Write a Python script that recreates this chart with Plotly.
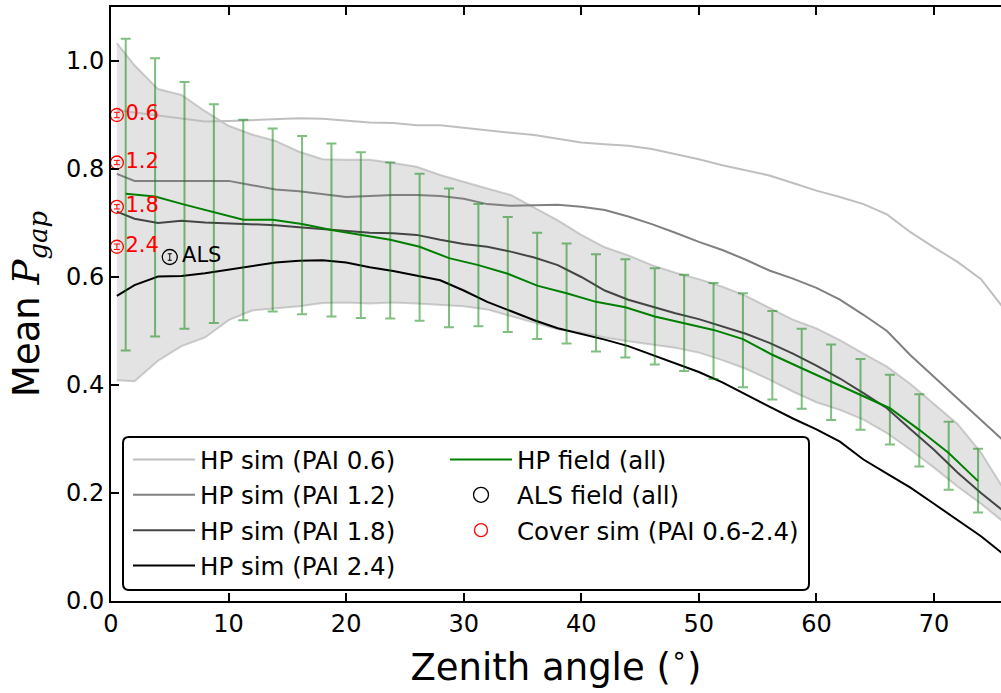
import plotly.graph_objects as go

# ---------------- data ----------------
sim_x = [0.5, 2, 4, 6, 8, 10, 12, 14, 16, 18, 20, 22, 24, 26, 28, 30, 32, 34, 36, 38,
         40, 42, 44, 46, 48, 50, 52, 54, 56, 58, 60, 62, 64, 66, 68, 70, 72, 74, 76]

pai06 = [0.909, 0.905, 0.899, 0.893, 0.888, 0.889, 0.891, 0.893, 0.894, 0.893,
         0.889, 0.886, 0.885, 0.881, 0.881, 0.876, 0.871, 0.867, 0.863, 0.856,
         0.849, 0.846, 0.843, 0.837, 0.828, 0.818, 0.807, 0.797, 0.788, 0.774,
         0.760, 0.748, 0.735, 0.716, 0.683, 0.655, 0.628, 0.596, 0.540]
pai12 = [0.791, 0.778, 0.778, 0.778, 0.779, 0.778, 0.770, 0.762, 0.759, 0.754,
         0.748, 0.750, 0.752, 0.752, 0.750, 0.745, 0.735, 0.732, 0.733, 0.734,
         0.730, 0.724, 0.712, 0.698, 0.682, 0.665, 0.650, 0.632, 0.612, 0.597,
         0.580, 0.558, 0.530, 0.500, 0.455, 0.415, 0.375, 0.335, 0.295]
pai18 = [0.721, 0.708, 0.700, 0.704, 0.701, 0.699, 0.697, 0.696, 0.692, 0.689,
         0.686, 0.682, 0.681, 0.678, 0.669, 0.661, 0.656, 0.647, 0.636, 0.622,
         0.600, 0.575, 0.558, 0.545, 0.533, 0.522, 0.508, 0.495, 0.478, 0.458,
         0.436, 0.412, 0.385, 0.357, 0.318, 0.280, 0.238, 0.200, 0.165]
pai24 = [0.565, 0.585, 0.601, 0.602, 0.607, 0.614, 0.620, 0.627, 0.630, 0.631,
         0.627, 0.618, 0.611, 0.602, 0.594, 0.575, 0.554, 0.537, 0.520, 0.505,
         0.495, 0.484, 0.472, 0.456, 0.440, 0.424, 0.405, 0.382, 0.360, 0.338,
         0.318, 0.295, 0.262, 0.236, 0.210, 0.180, 0.150, 0.120, 0.085]

band_upper = [1.033, 0.992, 0.948, 0.937, 0.907, 0.880, 0.864, 0.852, 0.832, 0.818,
              0.817, 0.817, 0.811, 0.804, 0.789, 0.776, 0.764, 0.752, 0.728, 0.705,
              0.678, 0.655, 0.640, 0.622, 0.608, 0.596, 0.582, 0.565, 0.543, 0.521,
              0.505, 0.483, 0.458, 0.434, 0.402, 0.365, 0.328, 0.275, 0.205]
band_lower = [0.409, 0.407, 0.445, 0.472, 0.488, 0.520, 0.538, 0.542, 0.546, 0.552,
              0.553, 0.551, 0.553, 0.551, 0.549, 0.546, 0.540, 0.528, 0.515, 0.503,
              0.497, 0.488, 0.481, 0.475, 0.469, 0.460, 0.446, 0.430, 0.410, 0.388,
              0.368, 0.354, 0.336, 0.311, 0.280, 0.247, 0.212, 0.180, 0.145]

field_x = [1.25, 3.75, 6.25, 8.75, 11.25, 13.75, 16.25, 18.75, 21.25, 23.75,
           26.25, 28.75, 31.25, 33.75, 36.25, 38.75, 41.25, 43.75, 46.25, 48.75,
           51.25, 53.75, 56.25, 58.75, 61.25, 63.75, 66.25, 68.75, 71.25, 73.75]
field_mean = [0.754, 0.749, 0.734, 0.720, 0.706, 0.706, 0.698, 0.687, 0.678, 0.669,
              0.656, 0.635, 0.622, 0.606, 0.584, 0.570, 0.554, 0.544, 0.527, 0.515,
              0.502, 0.485, 0.456, 0.431, 0.406, 0.381, 0.357, 0.317, 0.274, 0.222]
field_top = [1.041, 1.005, 0.961, 0.920, 0.891, 0.875, 0.861, 0.847, 0.831, 0.812,
             0.791, 0.764, 0.735, 0.711, 0.682, 0.662, 0.642, 0.633, 0.616, 0.604,
             0.589, 0.570, 0.537, 0.504, 0.475, 0.448, 0.419, 0.383, 0.332, 0.282]
field_bottom = [0.464, 0.490, 0.504, 0.515, 0.520, 0.536, 0.531, 0.527, 0.524, 0.523,
                0.519, 0.507, 0.509, 0.498, 0.485, 0.477, 0.462, 0.451, 0.438, 0.426,
                0.411, 0.396, 0.373, 0.356, 0.335, 0.317, 0.290, 0.249, 0.206, 0.164]

cover_x = [0.5, 0.5, 0.5, 0.5]
cover_y = [0.900, 0.812, 0.730, 0.656]
cover_err = [0.005, 0.004, 0.004, 0.005]
cover_labels = ["0.6", "1.2", "1.8", "2.4"]

als_x = [5.0]
als_y = [0.637]
als_err = [0.006]
als_label = ["ALS"]

x_ticks = [0, 10, 20, 30, 40, 50, 60, 70]
y_ticks = [0.0, 0.2, 0.4, 0.6, 0.8, 1.0]
y_ticklabels = ["0.0", "0.2", "0.4", "0.6", "0.8", "1.0"]

# ---------------- figure ----------------
FONT = "DejaVu Sans"
W, H = 1001, 693
ML, MR, MT, MB = 111, 0, 7, 92
PW, PH = W - ML - MR, H - MT - MB

def px2paper(px, py):
    return (px - ML) / PW, (H - MB - py) / PH

fig = go.Figure()

edge = "rgba(150,150,150,0.45)"
fig.add_trace(go.Scatter(x=sim_x, y=band_lower, mode="lines",
                         line=dict(color=edge, width=2), showlegend=False, hoverinfo="skip"))
fig.add_trace(go.Scatter(x=sim_x, y=band_upper, mode="lines", fill="tonexty",
                         fillcolor="rgba(200,200,200,0.5)",
                         line=dict(color=edge, width=2), showlegend=False, hoverinfo="skip"))

sims = [(pai06, "#bfbfbf", "HP sim (PAI 0.6)"),
        (pai12, "#808080", "HP sim (PAI 1.2)"),
        (pai18, "#454545", "HP sim (PAI 1.8)"),
        (pai24, "#000000", "HP sim (PAI 2.4)")]
for i, (vals, col, name) in enumerate(sims):
    fig.add_trace(go.Scatter(x=sim_x, y=vals, mode="lines", name=name,
                             line=dict(color=col, width=2),
                             legend="legend", legendgroup=f"a{i}", legendrank=i + 1))

plus = [t - m for t, m in zip(field_top, field_mean)]
minus = [m - b for m, b in zip(field_mean, field_bottom)]
fig.add_trace(go.Scatter(x=field_x, y=field_mean, mode="markers",
                         marker=dict(size=1, opacity=0),
                         error_y=dict(type="data", symmetric=False, array=plus, arrayminus=minus,
                                      color="rgba(0,128,0,0.5)", thickness=2, width=5),
                         showlegend=False, hoverinfo="skip"))
fig.add_trace(go.Scatter(x=field_x, y=field_mean, mode="lines", name="HP field (all)",
                         line=dict(color="#008000", width=2),
                         legend="legend2", legendgroup="b1", legendrank=1))

fig.add_trace(go.Scatter(x=als_x, y=als_y, mode="markers", name="ALS field (all)",
                         marker=dict(symbol="circle-open", color="black", size=15,
                                     line=dict(width=1.3, color="black")),
                         error_y=dict(type="data", array=als_err, color="black",
                                      thickness=1, width=2),
                         legend="legend2", legendgroup="b2", legendrank=2))
fig.add_trace(go.Scatter(x=cover_x, y=cover_y, mode="markers", name="Cover sim (PAI 0.6-2.4)",
                         marker=dict(symbol="circle-open", color="red", size=13,
                                     line=dict(width=1.3, color="red")),
                         error_y=dict(type="data", array=cover_err, color="red",
                                      thickness=1, width=3),
                         legend="legend2", legendgroup="b3", legendrank=3))

# labels (invisible markers give the text its offset from the point)
fig.add_trace(go.Scatter(x=cover_x, y=cover_y, mode="markers+text", text=cover_labels,
                         textposition="middle right",
                         marker=dict(size=12, opacity=0),
                         textfont=dict(family=FONT, size=21, color="red"),
                         showlegend=False, hoverinfo="skip"))
fig.add_trace(go.Scatter(x=als_x, y=als_y, mode="markers+text", text=als_label,
                         textposition="middle right",
                         marker=dict(size=18, opacity=0),
                         textfont=dict(family=FONT, size=21, color="black"),
                         showlegend=False, hoverinfo="skip"))

# legend box (rounded)
x0, y0 = px2paper(123, 590)
x1, y1 = px2paper(809, 437)
rx, ry = 6 / PW, 6 / PH
path = (f"M {x0+rx},{y0} L {x1-rx},{y0} Q {x1},{y0} {x1},{y0+ry} "
        f"L {x1},{y1-ry} Q {x1},{y1} {x1-rx},{y1} L {x0+rx},{y1} "
        f"Q {x0},{y1} {x0},{y1-ry} L {x0},{y0+ry} Q {x0},{y0} {x0+rx},{y0} Z")
fig.add_shape(type="path", path=path, xref="paper", yref="paper",
              line=dict(color="black", width=2), fillcolor="white", layer="above")

lx1, ly = px2paper(128, 437)
lx2, _ = px2paper(445, 437)
axis_common = dict(ticks="inside", ticklen=8, tickwidth=1.5, tickcolor="black",
                   showline=True, linewidth=2, linecolor="black", showgrid=False,
                   zeroline=False, automargin=False,
                   tickfont=dict(family=FONT, size=24, color="black"))

fig.update_layout(
    width=W, height=H,
    margin=dict(l=ML, r=MR, t=MT, b=MB, autoexpand=False),
    plot_bgcolor="white", paper_bgcolor="white",
    font=dict(family=FONT, size=20, color="black"),
    xaxis=dict(range=[0, 75.7], tickvals=x_ticks, mirror="ticks",
               title=dict(text="Zenith angle (<sup>∘</sup>)", font=dict(family=FONT, size=37),
                          standoff=17),
               **axis_common),
    yaxis=dict(range=[0, 1.1], tickvals=y_ticks, ticktext=y_ticklabels, mirror=False,
               title=dict(text='Mean <span style="font-family:DejaVu Serif"><i>P<sub>gap</sub></i></span>',
                          font=dict(family=FONT, size=37), standoff=15),
               **axis_common),
    yaxis2=dict(range=[0, 1.1], tickvals=y_ticks, overlaying="y", side="right",
                ticks="inside", ticklen=8, tickwidth=1.5, tickcolor="black", automargin=False,
                showticklabels=False, showline=False, showgrid=False, zeroline=False),
    legend=dict(x=lx1, y=ly, xanchor="left", yanchor="top", bgcolor="rgba(0,0,0,0)",
                borderwidth=0, font=dict(family=FONT, size=24.5), tracegroupgap=0.5,
                itemwidth=62),
    legend2=dict(x=lx2, y=ly, xanchor="left", yanchor="top", bgcolor="rgba(0,0,0,0)",
                 borderwidth=0, font=dict(family=FONT, size=24.5), tracegroupgap=0.5,
                 itemwidth=62),
    showlegend=True,
)

fig.write_html("out.html", config={"displayModeBar": False},
               post_script="document.body.style.margin='0';document.body.style.overflow='hidden';")
